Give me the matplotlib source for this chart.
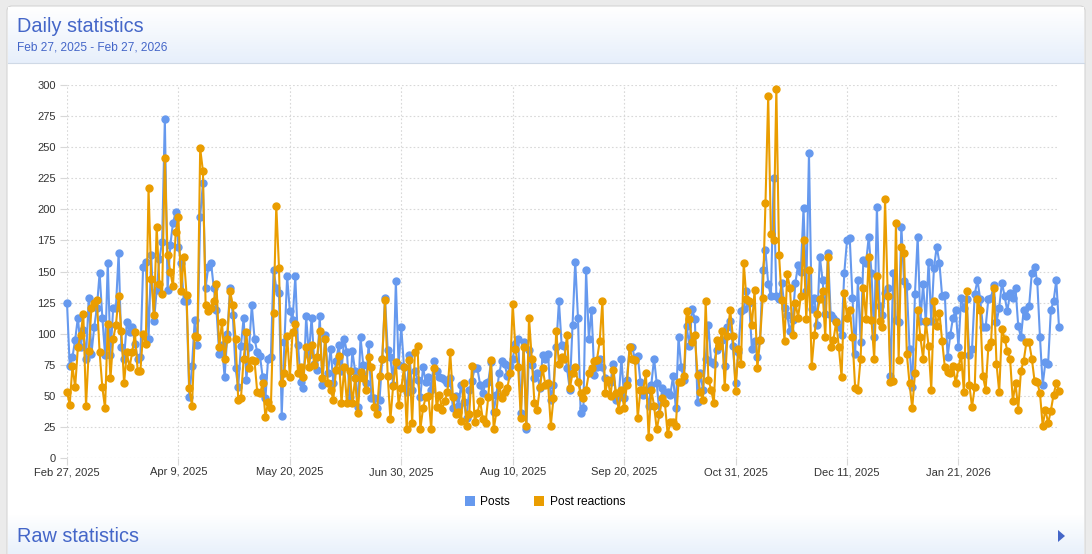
import numpy as np
import pandas as pd
import matplotlib
matplotlib.use('Agg')
import matplotlib.pyplot as plt
from matplotlib.patches import FancyBboxPatch, Patch, Polygon
from matplotlib.colors import LinearSegmentedColormap

plt.rcParams['font.family'] = ['Liberation Sans', 'DejaVu Sans']

# ---------------- data ----------------
start_date = '2025-02-27'
title = 'Daily statistics'
subtitle = 'Feb 27, 2025 - Feb 27, 2026'
bottom_title = 'Raw statistics'
series_names = ['Posts', 'Post reactions']

posts = [
    125, 74, 81, 95, 113, 89, 103, 80, 129, 84, 105, 121, 149, 113, 83, 157, 83, 121, 121, 165,
    89, 80, 109, 101, 105, 92, 80, 81, 154, 158, 96, 163, 110, 135, 160, 174, 273,
    135, 171, 189, 198, 170, 157, 126, 126, 49, 74, 111, 91, 194, 221, 137, 154, 157, 137, 119,
    84, 91, 65, 100, 137, 115, 72, 57, 90, 113, 63, 89, 123, 96, 85, 82, 65, 48, 80,
    81, 151, 137, 133, 34, 93, 146, 118, 111, 146, 91, 61, 56, 114, 83, 113, 76, 71, 114, 59,
    99, 68, 88, 60, 78, 91, 70, 96, 85, 49, 86, 70, 41, 97, 75, 60, 92, 48,
    48, 40, 47, 80, 129, 87, 81, 59, 142, 75, 105, 73, 53, 83, 55, 70, 63, 49, 73, 61,
    65, 55, 78, 70, 65, 64, 63, 60, 64, 40, 50, 42, 59, 45, 32, 55, 62, 72,
    72, 59, 52, 60, 61, 77, 37, 51, 68, 78, 76, 66, 74, 80, 92, 96, 36, 93, 23, 87,
    75, 64, 68, 56, 83, 80, 84, 47, 59, 89, 126, 91, 90, 72, 55, 107, 158, 113, 36,
    40, 151, 96, 119, 67, 73, 80, 73, 64, 62, 61, 76, 47, 49, 80, 48, 63, 89, 89, 79,
    82, 61, 51, 55, 42, 59, 80, 60, 35, 56, 52, 53, 51, 66, 40, 97, 73, 63, 106,
    90, 120, 112, 45, 68, 55, 80, 107, 77, 76, 87, 90, 95, 74, 105, 110, 90, 60, 85, 118,
    120, 134, 125, 88, 94, 81, 95, 151, 167, 140, 130, 225, 130, 128, 141, 121, 115, 102,
    111, 141, 155, 150, 201, 134, 245, 120, 129, 107, 162, 143, 116, 165, 115, 113, 110, 105, 99, 149,
    175, 177, 129, 84, 143, 93, 159, 157, 178, 149, 97, 202, 122, 115, 133, 137, 66, 149,
    111, 109, 186, 142, 138, 88, 57, 132, 178, 110, 140, 109, 158, 110, 153, 170, 157, 130, 131, 81,
    99, 113, 119, 89, 129, 121, 128, 83, 88, 132, 143, 128, 105, 105, 128, 129, 139,
    109, 121, 141, 130, 118, 133, 129, 137, 106, 97, 119, 114, 122, 149, 154, 142, 97, 59, 77, 76,
    119, 126, 143, 105,
]

reactions = [
    53, 43, 74, 57, 89, 99, 116, 42, 86, 121, 125, 127, 85, 57, 40, 108, 64, 96, 107, 130,
    102, 60, 85, 73, 85, 101, 70, 70, 100, 92, 217, 144, 115, 186, 140, 132, 241,
    163, 150, 138, 182, 194, 134, 162, 131, 56, 42, 98, 97, 249, 231, 123, 118, 121, 126, 140,
    89, 109, 80, 96, 134, 123, 96, 47, 48, 80, 101, 72, 79, 78, 53, 52, 60, 33, 45,
    40, 117, 203, 153, 60, 68, 98, 65, 101, 108, 68, 73, 65, 89, 73, 91, 75, 81, 102, 64,
    96, 60, 55, 47, 71, 82, 44, 73, 44, 70, 44, 64, 36, 69, 64, 55, 81, 73,
    41, 35, 66, 80, 127, 66, 31, 58, 77, 43, 56, 73, 23, 79, 28, 85, 90, 23, 40, 49,
    50, 23, 72, 41, 51, 39, 46, 53, 85, 49, 35, 37, 30, 60, 26, 35, 74, 29,
    36, 46, 31, 28, 49, 79, 23, 37, 59, 48, 53, 56, 68, 124, 88, 73, 32, 89, 26, 113,
    80, 44, 39, 57, 72, 59, 60, 26, 48, 102, 76, 81, 80, 99, 56, 68, 73, 61, 52,
    48, 55, 68, 72, 78, 79, 94, 126, 52, 63, 50, 71, 52, 39, 55, 40, 59, 89, 80, 79,
    32, 55, 55, 68, 17, 55, 42, 23, 35, 48, 44, 19, 29, 29, 26, 61, 61, 66, 118,
    112, 93, 99, 67, 53, 47, 126, 63, 55, 44, 95, 90, 102, 57, 98, 119, 98, 54, 88, 76,
    157, 128, 126, 107, 135, 72, 95, 129, 205, 291, 180, 175, 297, 163, 127, 94, 148, 137,
    99, 125, 113, 130, 175, 112, 151, 74, 99, 116, 128, 134, 97, 162, 89, 95, 109, 89, 65, 133,
    113, 119, 97, 56, 55, 80, 137, 112, 162, 111, 80, 146, 110, 105, 208, 130, 61, 62,
    189, 79, 170, 165, 84, 60, 40, 68, 119, 97, 80, 110, 90, 55, 126, 106, 117, 94, 73, 69,
    68, 74, 60, 73, 83, 53, 134, 59, 41, 57, 128, 119, 66, 55, 89, 93, 137,
    76, 53, 104, 96, 86, 80, 46, 60, 39, 70, 78, 93, 93, 80, 62, 61, 52, 26, 39, 28,
    38, 51, 60, 54,
]

tick_dates = ['2025-02-27', '2025-04-09', '2025-05-20', '2025-06-30', '2025-08-10',
              '2025-09-20', '2025-10-31', '2025-12-11', '2026-01-21']
tick_labels = ['Feb 27, 2025', 'Apr 9, 2025', 'May 20, 2025', 'Jun 30, 2025', 'Aug 10, 2025',
               'Sep 20, 2025', 'Oct 31, 2025', 'Dec 11, 2025', 'Jan 21, 2026']
y_ticks = list(range(0, 301, 25))

# ---------------- style ----------------
BLUE = '#6699ee'
ORANGE = '#ea9d00'
TITLE_C = '#4466c8'
GRID_C = '#d8d8d8'
W, H = 1092, 554

dates = pd.date_range(start_date, periods=len(posts), freq='D')

fig = plt.figure(figsize=(W / 100, H / 100), dpi=100)
fig.patch.set_facecolor('#ebebeb')

bg = fig.add_axes([0, 0, 1, 1], zorder=0)
bg.axis('off')
card = FancyBboxPatch((7, 6), 1078, 580, boxstyle='round,pad=0,rounding_size=5',
                      fc='white', ec='#d4d4d4', lw=0.8, zorder=1)
bg.add_patch(card)
cmap = LinearSegmentedColormap.from_list('hdr', ['#ffffff', '#e7effb'])
grad = np.linspace(0, 1, 64).reshape(-1, 1)
bg.imshow(grad, extent=(8, 1084, 63, 7), cmap=cmap, aspect='auto', zorder=2)
bg.plot([8, 1084], [63, 63], color='#cfd9e6', lw=0.8, zorder=3)
cmap2 = LinearSegmentedColormap.from_list('ftr', ['#ffffff', '#e9f1fb'])
grad2 = np.linspace(0, 1, 40).reshape(-1, 1)
bg.imshow(grad2, extent=(8, 1084, 554, 514), cmap=cmap2, aspect='auto', zorder=2)
bg.add_patch(Polygon([(1058, 530), (1065, 536), (1058, 542)], closed=True,
                     fc=TITLE_C, ec='none', zorder=4))
bg.set_xlim(0, W)
bg.set_ylim(H, 0)

bg.text(17, 26.5, title, fontsize=14.3, color=TITLE_C, va='center', ha='left', zorder=5)
bg.text(17, 47.5, subtitle, fontsize=8.6, color=TITLE_C, va='center', ha='left', zorder=5)
bg.text(17, 536.5, bottom_title, fontsize=14.3, color=TITLE_C, va='center', ha='left', zorder=5)

ax = fig.add_axes([67 / W, (H - 458) / H, (1059 - 67) / W, (458 - 85) / H], zorder=2)
ax.patch.set_alpha(0)
ax.plot(dates, posts, color=BLUE, lw=1.5, marker='o', ms=5.0, clip_on=False, zorder=3,
        label=series_names[0])
ax.plot(dates, reactions, color=ORANGE, lw=1.5, marker='o', ms=5.0, clip_on=False, zorder=4,
        label=series_names[1])

ax.set_xlim(dates[0], dates[-1])
ax.set_ylim(0, 300)
ax.set_yticks(y_ticks)
ax.set_xticks(pd.to_datetime(tick_dates))
ax.set_xticklabels(tick_labels)
for s in ax.spines.values():
    s.set_visible(False)
ax.grid(True, color=GRID_C, linestyle=(0, (1.5, 2)), lw=0.8)
ax.set_axisbelow(True)
ax.tick_params(axis='both', colors=GRID_C, length=5, labelsize=8, labelcolor='#333333')
ax.tick_params(axis='y', pad=3)
ax.tick_params(axis='x', pad=1.8)

handles = [Patch(fc=BLUE, ec='none'), Patch(fc=ORANGE, ec='none')]
fig.legend(handles, series_names, loc='center', bbox_to_anchor=(545 / W, 1 - 502 / H),
           ncol=2, frameon=False, fontsize=8.6, handlelength=0.8, handleheight=1.0,
           handletextpad=0.5, columnspacing=2.0)

fig.savefig('out.png', dpi=100, facecolor=fig.get_facecolor())
